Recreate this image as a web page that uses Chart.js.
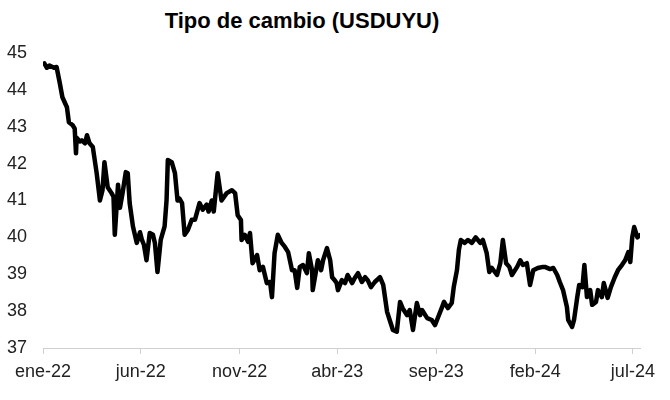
<!DOCTYPE html>
<html>
<head>
<meta charset="utf-8">
<script src="https://cdn.jsdelivr.net/npm/chart.js@4"></script>
<style>
  html, body { margin: 0; padding: 0; background: #fff; }
  #wrap { position: relative; width: 670px; height: 400px; }
  #titulo {
    position: absolute; top: 8px; left: 0; width: 604px;
    text-align: center; font: bold 22px "Liberation Sans", Arial, sans-serif; color: #000;
  }
  canvas { position: absolute; left: 0; top: 0; }
</style>
</head>
<body>
<div id="wrap">
  <div id="titulo">Tipo de cambio (USDUYU)</div>
  <canvas id="grafico" width="670" height="400"></canvas>
</div>
<script>
const fechas = [
  '2022-01-03','2022-01-07','2022-01-11','2022-01-18','2022-01-22','2022-01-27','2022-01-31','2022-02-07','2022-02-10','2022-02-16',
  '2022-02-19','2022-02-21','2022-02-22','2022-02-27','2022-03-02','2022-03-07','2022-03-10','2022-03-14','2022-03-19','2022-03-25',
  '2022-03-30','2022-04-03','2022-04-06','2022-04-11','2022-04-17','2022-04-20','2022-04-22','2022-04-27','2022-04-30','2022-05-04',
  '2022-05-09','2022-05-12','2022-05-15','2022-05-20','2022-05-26','2022-05-31','2022-06-03','2022-06-06','2022-06-10','2022-06-15',
  '2022-06-20','2022-06-23','2022-06-27','2022-07-02','2022-07-08','2022-07-11','2022-07-13','2022-07-19','2022-07-24','2022-07-28',
  '2022-07-31','2022-08-04','2022-08-08','2022-08-13','2022-08-19','2022-08-24','2022-08-31','2022-09-05','2022-09-11','2022-09-14',
  '2022-09-19','2022-09-22','2022-09-28','2022-10-04','2022-10-12','2022-10-20','2022-10-25','2022-10-29','2022-11-03','2022-11-04',
  '2022-11-09','2022-11-14','2022-11-17','2022-11-21','2022-11-28','2022-12-02','2022-12-07','2022-12-13','2022-12-18','2022-12-21',
  '2022-12-25','2022-12-30','2023-01-05','2023-01-10','2023-01-15','2023-01-21','2023-01-25','2023-01-29','2023-02-02','2023-02-07',
  '2023-02-13','2023-02-16','2023-02-21','2023-02-22','2023-03-02','2023-03-07','2023-03-10','2023-03-16','2023-03-21','2023-03-24',
  '2023-03-28','2023-03-31','2023-04-02','2023-04-08','2023-04-13','2023-04-17','2023-04-24','2023-04-28','2023-05-03','2023-05-09',
  '2023-05-14','2023-05-18','2023-05-23','2023-05-29','2023-06-06','2023-06-11','2023-06-17','2023-06-21','2023-06-26','2023-07-02',
  '2023-07-07','2023-07-11','2023-07-18','2023-07-22','2023-07-27','2023-08-02','2023-08-07','2023-08-10','2023-08-18','2023-08-25',
  '2023-08-30','2023-09-04','2023-09-10','2023-09-13','2023-09-19','2023-09-25','2023-09-28','2023-10-03','2023-10-06','2023-10-09',
  '2023-10-15','2023-10-20','2023-10-26','2023-11-01','2023-11-08','2023-11-12','2023-11-18','2023-11-22','2023-11-26','2023-12-04',
  '2023-12-09','2023-12-13','2023-12-18','2023-12-23','2023-12-27','2024-01-04','2024-01-09','2024-01-13','2024-01-19','2024-01-24',
  '2024-01-29','2024-02-05','2024-02-13','2024-02-16','2024-02-24','2024-02-29','2024-03-06','2024-03-10','2024-03-15','2024-03-21',
  '2024-03-23','2024-03-29','2024-04-01','2024-04-06','2024-04-09','2024-04-14','2024-04-17','2024-04-21','2024-04-26','2024-04-29',
  '2024-05-05','2024-05-08','2024-05-14','2024-05-17','2024-05-23','2024-05-28','2024-06-03','2024-06-08','2024-06-14','2024-06-19',
  '2024-06-24','2024-06-27','2024-06-30','2024-07-03','2024-07-08','2024-07-12'
];
const usduyu = [
  44.72,44.60,44.66,44.60,44.62,44.18,43.80,43.53,43.12,43.04,
  42.95,42.28,42.70,42.60,42.63,42.55,42.77,42.55,42.45,41.74,
  41.00,41.28,42.04,41.36,41.20,41.10,40.07,41.43,40.80,41.20,
  41.77,41.74,40.93,40.30,39.85,40.14,39.93,39.80,39.38,40.12,
  40.07,39.85,39.06,39.93,40.30,41.00,42.10,42.04,41.74,41.00,
  41.05,40.93,40.07,40.20,40.48,40.48,40.93,40.75,40.89,40.70,
  41.00,40.70,41.74,41.00,41.20,41.28,41.20,40.60,40.47,39.93,
  40.07,39.88,40.12,39.30,39.52,39.11,39.20,38.76,38.79,38.38,
  39.57,40.07,39.85,39.74,39.60,39.11,39.11,38.63,39.20,39.25,
  39.03,39.57,39.11,38.57,39.38,39.11,39.38,39.71,39.38,38.92,
  38.84,38.76,38.57,38.84,38.76,38.98,38.76,38.90,39.03,38.79,
  38.92,38.84,38.65,38.79,38.92,38.71,37.98,37.76,37.49,37.44,
  38.25,38.08,37.89,38.03,37.49,38.22,37.89,38.03,37.81,37.76,
  37.62,37.84,38.11,38.25,38.08,38.22,38.65,39.11,39.66,39.93,
  39.85,39.93,39.85,40.00,39.85,39.93,39.57,39.06,39.17,38.98,
  39.30,39.93,39.30,39.20,38.98,39.20,39.38,39.25,39.30,38.71,
  39.11,39.17,39.20,39.20,39.14,39.17,38.98,38.79,38.57,38.11,
  37.76,37.57,37.76,38.38,38.71,38.65,39.25,38.38,38.57,38.17,
  38.25,38.57,38.38,38.76,38.36,38.65,38.92,39.11,39.25,39.38,
  39.60,39.33,40.00,40.28,40.00,40.06
];
const tickFechas = ['2022-01-01','2022-06-01','2022-11-01','2023-04-01','2023-09-01','2024-02-01','2024-07-01'];
const tickEtiquetas = ['ene-22','jun-22','nov-22','abr-23','sep-23','feb-24','jul-24'];
const fechaFin = '2024-07-12';
const yMin = 37, yMax = 45;

const origen = Date.UTC(2022, 0, 1);
const dia = s => {
  const [a, m, d] = s.split('-').map(Number);
  return Math.round((Date.UTC(a, m - 1, d) - origen) / 86400000);
};
const tickDias = tickFechas.map(dia);
const puntos = fechas.map((f, i) => ({ x: dia(f), y: usduyu[i] }));

const fuente = { family: "'Liberation Sans', Arial, sans-serif", size: 18 };

new Chart(document.getElementById('grafico'), {
  type: 'line',
  data: {
    datasets: [{
      label: 'USDUYU',
      data: puntos,
      borderColor: '#000',
      borderWidth: 4.5,
      borderJoinStyle: 'round',
      borderCapStyle: 'round',
      pointRadius: 0,
      tension: 0
    }]
  },
  options: {
    responsive: false,
    animation: false,
    layout: { padding: { left: 5, right: 30, top: 53, bottom: 0 } },
    plugins: { legend: { display: false }, tooltip: { enabled: false } },
    scales: {
      x: {
        type: 'linear',
        min: 0,
        max: dia(fechaFin),
        afterBuildTicks: scale => { scale.ticks = tickDias.map(v => ({ value: v })); },
        afterFit: scale => { scale.height = 52; },
        ticks: {
          autoSkip: false,
          maxRotation: 0,
          padding: 7,
          color: '#222',
          font: fuente,
          callback: (v) => tickEtiquetas[tickDias.indexOf(v)]
        },
        grid: { drawOnChartArea: false, drawTicks: true, tickLength: 6, color: '#d0d0d0', lineWidth: 1 },
        border: { display: true, color: '#d0d0d0', width: 1 }
      },
      y: {
        min: yMin,
        max: yMax,
        afterFit: scale => { scale.width = 38; },
        ticks: { stepSize: 1, padding: 16, color: '#222', font: fuente },
        grid: { display: false, drawTicks: false },
        border: { display: false }
      }
    }
  }
});
</script>
</body>
</html>
